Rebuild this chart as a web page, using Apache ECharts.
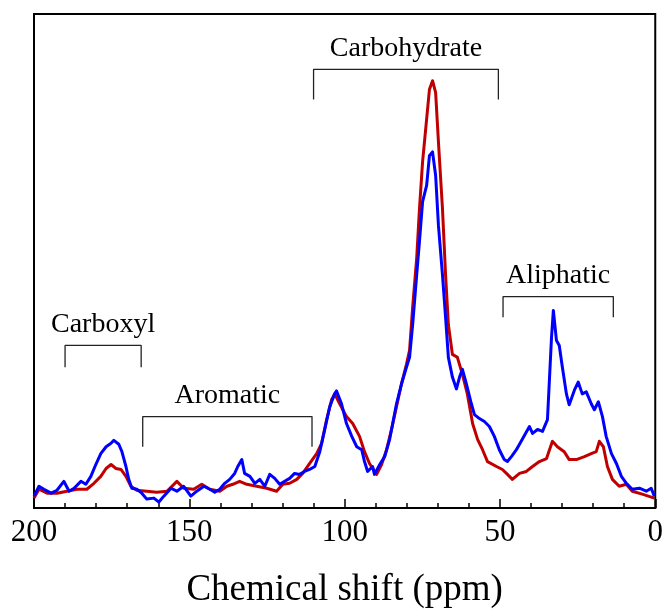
<!DOCTYPE html>
<html>
<head>
<meta charset="utf-8">
<script src="https://cdn.jsdelivr.net/npm/echarts@6/dist/echarts.min.js"></script>
<style>
html,body{margin:0;padding:0;background:#fff;}
#chart{width:666px;height:614px;}
</style>
</head>
<body>
<div id="chart"></div>
<script>
// Red spectrum: [chemical shift (ppm), intensity]
const redShift = [200.0,198.4,195.8,192.6,189.4,186.2,183.0,180.7,178.5,176.8,175.2,173.6,172.0,170.4,168.8,166.9,163.7,160.5,157.2,154.0,151.8,148.6,146.0,143.4,140.2,137.9,136.0,133.8,131.5,128.3,125.1,121.9,119.9,117.7,115.4,113.5,111.3,109.0,107.4,105.8,104.2,103.2,101.6,99.4,97.4,95.2,93.6,92.0,89.7,88.1,86.5,84.9,83.3,81.7,80.1,79.1,78.1,76.8,75.9,74.9,73.6,72.7,71.7,70.7,69.8,68.5,67.5,66.6,65.3,63.7,62.1,60.5,58.8,57.2,55.6,54.0,51.1,49.2,47.9,46.0,43.7,41.5,39.5,37.3,35.0,33.1,31.5,29.3,27.7,25.4,22.8,20.6,19.0,18.0,16.7,15.4,13.8,11.6,9.3,7.4,4.2,0.3];
const redValue = [2.0,3.8,3.0,3.0,3.4,3.8,3.8,5.0,6.4,8.0,8.8,8.0,7.8,6.4,4.4,3.6,3.4,3.2,3.4,5.4,4.0,3.8,4.8,3.8,3.4,4.4,4.8,5.4,4.8,4.4,4.0,3.4,4.8,5.0,5.8,7.0,9.0,11.0,13.1,17.9,21.9,23.1,21.1,18.5,17.1,14.5,11.4,9.0,6.8,8.8,11.8,15.9,20.5,25.1,29.1,31.9,40.6,50.6,60.6,70.1,78.7,84.7,86.5,84.1,74.1,60.6,47.2,37.1,31.1,30.5,27.1,23.1,17.1,13.9,11.8,9.4,8.4,7.8,7.0,5.8,7.0,7.4,8.4,9.4,10.0,13.5,12.4,11.4,9.8,9.8,10.4,11.0,11.4,13.5,12.4,8.4,5.8,4.4,4.8,3.4,2.8,2.0];

// Blue spectrum: [chemical shift (ppm), intensity]
const blueShift = [200.0,198.4,196.8,194.5,192.6,190.4,188.7,187.1,184.9,183.3,181.7,180.1,178.5,176.8,175.2,174.3,172.7,171.7,170.4,169.5,168.5,166.9,165.3,163.7,161.4,159.8,158.2,155.9,154.0,151.8,149.5,147.6,145.3,143.4,141.8,140.2,138.6,137.0,135.4,134.4,133.1,132.2,130.5,128.9,127.3,125.7,124.1,122.5,120.9,119.3,117.7,116.1,114.5,112.9,111.3,109.6,108.0,106.4,104.8,103.2,102.6,101.0,99.4,97.7,96.1,94.5,93.6,92.6,91.0,90.4,88.7,87.1,85.5,83.3,81.7,80.1,79.1,78.1,76.8,75.9,74.9,73.6,72.7,71.7,70.7,69.8,68.5,67.5,66.6,65.3,64.0,63.0,62.1,60.8,59.2,58.2,56.6,55.0,53.4,51.8,50.2,48.6,47.6,46.3,44.7,42.8,40.5,39.5,37.9,36.3,34.7,33.4,32.8,31.8,30.9,29.9,28.6,27.7,26.0,24.8,23.5,22.2,20.6,19.6,18.3,17.0,15.8,14.1,12.5,10.9,9.3,7.4,5.1,2.9,1.3,0.3];
const blueValue = [2.4,4.4,3.8,3.0,3.6,5.4,3.4,4.0,5.4,4.8,6.4,8.8,11.0,12.4,13.1,13.7,12.9,11.4,8.4,5.8,4.0,3.8,3.0,1.8,2.0,1.2,2.4,4.0,3.4,4.4,2.4,3.4,4.4,3.8,3.2,3.8,5.0,5.8,7.0,8.4,9.8,7.0,6.4,5.0,5.8,4.4,6.8,6.0,4.8,5.4,6.0,7.0,6.8,7.4,7.8,8.4,11.4,15.9,20.5,23.1,23.7,21.1,17.1,14.5,12.4,11.8,9.4,7.4,8.4,6.8,8.8,10.4,13.9,21.1,25.1,28.5,30.5,37.1,47.2,54.0,62.0,65.3,71.3,72.1,67.3,57.2,47.2,38.6,30.5,26.5,24.1,26.5,28.1,25.1,21.1,18.9,18.1,17.5,16.5,14.5,11.8,9.8,9.4,10.4,11.8,13.9,16.5,15.1,15.9,15.5,17.9,34.5,40.0,33.9,32.9,28.5,23.1,20.9,23.9,25.5,23.1,23.5,21.1,19.9,21.5,18.5,14.5,11.0,9.0,6.4,5.0,3.8,4.0,3.4,4.0,2.4];

// Region brackets (ppm range, bracket top and leg-end intensities)
const regionNames = ['Carboxyl','Aromatic','Carbohydrate','Aliphatic'];
const regionStart = [190,165,110,49];
const regionEnd = [165.5,110.5,50.5,13.5];
const regionTop = [32.9,18.5,88.8,42.8];
const regionLeg = [28.5,12.4,82.7,38.6];

const redColor = '#C00000';
const blueColor = '#0000FF';
const serif = '"Liberation Serif","Times New Roman",serif';

function zip(xs, ys){ return xs.map((x,i)=>[x, ys[i]]); }

const bracketSeries = regionNames.map((name,i)=>({
  type:'line', silent:true, symbol:'none', z:1,
  lineStyle:{color:'#222', width:1.3},
  data:[[regionStart[i],regionLeg[i]],[regionStart[i],regionTop[i]],[regionEnd[i],regionTop[i]],[regionEnd[i],regionLeg[i]]],
  animation:false
}));

const labelSeries = {
  type:'scatter', silent:true, symbolSize:1, z:2,
  itemStyle:{color:'rgba(0,0,0,0)', opacity:1},
  data: regionNames.map((name,i)=>({value:[(regionStart[i]+regionEnd[i])/2, regionTop[i]], name:name})),
  label:{show:true, position:'top', distance:6, formatter:p=>p.name, fontFamily:serif, fontSize:28,
         color:'#000000', opacity:1, textBorderWidth:0},
  emphasis:{disabled:true},
  animation:false
};

const chart = echarts.init(document.getElementById('chart'), null, {renderer:'canvas'});
chart.setOption({
  backgroundColor:'#ffffff',
  animation:false,
  grid:{left:34, right:10, top:14, bottom:102, show:true, borderColor:'#000', borderWidth:2, backgroundColor:'transparent'},
  xAxis:{
    type:'value', inverse:true, min:0, max:200, interval:50,
    axisLine:{show:true, lineStyle:{color:'#000', width:2}},
    axisTick:{show:true, inside:true, length:9, lineStyle:{color:'#000', width:1.5}},
    minorTick:{show:true, splitNumber:5, length:5, lineStyle:{color:'#000', width:1.5}},
    splitLine:{show:false},
    axisLabel:{fontFamily:serif, fontSize:31, color:'#000', margin:9},
    name:'Chemical shift (ppm)', nameLocation:'middle', nameGap:64,
    nameTextStyle:{fontFamily:serif, fontSize:37, color:'#000'}
  },
  yAxis:{
    type:'value', min:0, max:100,
    axisLine:{show:false}, axisTick:{show:false}, axisLabel:{show:false}, splitLine:{show:false}
  },
  series:[
    ...bracketSeries,
    labelSeries,
    {type:'line', name:'red', data:zip(redShift, redValue), symbol:'none', z:3,
     lineStyle:{color:redColor, width:3, join:'round'}},
    {type:'line', name:'blue', data:zip(blueShift, blueValue), symbol:'none', z:4,
     lineStyle:{color:blueColor, width:3, join:'round'}}
  ]
});
</script>
</body>
</html>
